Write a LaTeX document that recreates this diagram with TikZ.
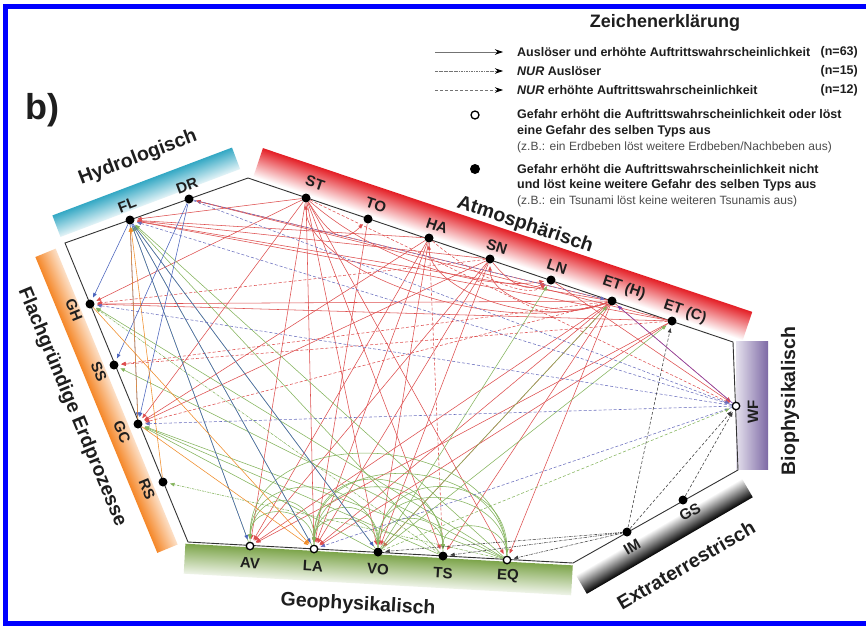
\documentclass[tikz,border=0pt]{standalone}
\usepackage{fontspec}
\setmainfont{Liberation Sans}
\usetikzlibrary{arrows.meta}
\definecolor{atmL}{RGB}{222,78,78}
\definecolor{geoL}{RGB}{132,180,92}
\definecolor{hydL}{RGB}{72,98,188}
\definecolor{shlL}{RGB}{240,140,40}
\definecolor{bioL}{RGB}{130,70,180}
\definecolor{extL}{RGB}{60,60,60}
\definecolor{wfdL}{RGB}{105,110,190}
\definecolor{hydB}{RGB}{52,168,196}
\definecolor{atmB}{RGB}{228,30,37}
\definecolor{bioB}{RGB}{125,105,165}
\definecolor{geoB}{RGB}{125,165,75}
\definecolor{shlB}{RGB}{245,135,40}
\definecolor{txt}{RGB}{30,30,30}
\begin{document}
\begin{tikzpicture}[x=1pt,y=-1pt,
  conn/.style={line width=0.55pt,-{Triangle[length=4.5pt,width=3.6pt]},shorten >=2.5pt},
  trig/.style={dash pattern=on 2.5pt off 1pt on 0.6pt off 1pt},
  prob/.style={dash pattern=on 3pt off 2pt},
  dotnode/.style={circle,fill=black,inner sep=0pt,minimum size=9pt},
  opennode/.style={circle,draw=black,fill=white,line width=1.3pt,inner sep=0pt,minimum size=7.5pt},
  lab/.style={font=\fontsize{15}{15}\selectfont\bfseries,inner sep=0pt,text=txt},
  grp/.style={font=\fontsize{19.5}{19.5}\selectfont\bfseries,inner sep=0pt,text=txt},
  leg/.style={font=\fontsize{12.5}{12.5}\selectfont\bfseries,inner sep=0pt,anchor=west,text=txt},
  legs/.style={font=\fontsize{12}{12}\selectfont,inner sep=0pt,anchor=west,text=black!70},
  legn/.style={font=\fontsize{12.5}{12.5}\selectfont\bfseries,inner sep=0pt,anchor=east,text=txt},
  legarrow/.style={line width=0.8pt,black!55,-{Stealth[length=8pt,width=5.5pt,black]}}
]
\useasboundingbox (0,0) rectangle (866,625);
\fill[white] (0,0) rectangle (866,625);
% frame
\draw[blue,line width=5pt] (880,6.8) -- (5.8,6.8) -- (5.8,623.3) -- (880,623.3);

% bands
\begin{scope}[transform canvas={shift={(146.25,192.25)},rotate=20.7}]
  \shade[top color=hydB,bottom color=hydB!12] (-96,-11.5) rectangle (96,11.5);
\end{scope}
\begin{scope}[transform canvas={shift={(502.8,244.2)},rotate=-18.5}]
  \shade[top color=atmB,bottom color=white] (-258,-15) rectangle (258,15);
\end{scope}
\shade[left color=bioB!20,right color=bioB] (736,341) rectangle (768,469);
\begin{scope}[transform canvas={shift={(664.25,536)},rotate=30.2}]
  \shade[top color=white,bottom color=black] (-96,-11) rectangle (96,11);
\end{scope}
\begin{scope}[transform canvas={shift={(378.25,569.5)},rotate=-3.2}]
  \shade[top color=geoB,bottom color=geoB!12] (-194,-15) rectangle (194,15);
\end{scope}
\begin{scope}[transform canvas={shift={(106.5,400.75)},rotate=-67.6}]
  \shade[top color=shlB!25,bottom color=shlB] (-160,-11) rectangle (160,11);
\end{scope}

% polygon
\draw[black!80,line width=0.9pt] (65,243) -- (248,178) -- (733,342) -- (738,470) -- (573,563) -- (188,542) -- cycle;

% hazard nodes
\node[dotnode] (FL) at (130,220) {};
\node[dotnode] (DR) at (189,199) {};
\node[dotnode] (ST) at (306,198) {};
\node[dotnode] (TO) at (368,219) {};
\node[dotnode] (HA) at (429,238) {};
\node[dotnode] (SN) at (490,259) {};
\node[dotnode] (LN) at (551,280) {};
\node[dotnode] (ETH) at (612,301) {};
\node[dotnode] (ETC) at (672,321) {};
\node[opennode] (WF) at (736,406) {};
\node[dotnode] (GH) at (90,304) {};
\node[dotnode] (SS) at (114,365) {};
\node[dotnode] (GC) at (138,424) {};
\node[dotnode] (RS) at (163,482) {};
\node[opennode] (AV) at (250,546) {};
\node[opennode] (LA) at (314,549) {};
\node[dotnode] (VO) at (378,552) {};
\node[dotnode] (TS) at (443,556) {};
\node[opennode] (EQ) at (507,560) {};
\node[dotnode] (IM) at (627,532) {};
\node[dotnode] (GS) at (683,500) {};

% atmospheric (red)
\foreach \s/\t in {ST/FL,ST/LA,ST/AV,ST/GC,ST/GH,ST/VO,ST/EQ,HA/FL,HA/LA,HA/AV,HA/GC,
  SN/AV,SN/FL,SN/LA,SN/GC,SN/VO,TO/LA,LN/WF,ETH/DR,ETH/WF,ETH/FL,ETH/AV,ETH/LA,ETH/GH,
  ETH/VO,ETH/EQ,ETC/GH,ETC/AV,ETC/FL,ETC/LA,ST/TS,HA/VO,ETH/TS,ETC/DR}
  \draw[conn,atmL] (\s) -- (\t);
\foreach \s/\t in {ETH/GC,ETH/SS,ST/WF,SN/GH,ETC/SS,HA/TS}
  \draw[conn,prob,atmL] (\s) -- (\t);
\draw[conn,atmL] (ST) .. controls +(25,40) and +(-25,25) .. (TO);
\draw[conn,atmL] (ST) .. controls +(80,70) and +(-60,10) .. (LN);
\draw[conn,atmL] (SN) .. controls +(20,25) and +(-25,12) .. (LN);
\draw[conn,atmL] (ETH) .. controls +(-120,40) and +(0,70) .. (ST);
\draw[conn,atmL] (ETH) .. controls +(-80,30) and +(0,50) .. (HA);
\draw[conn,atmL] (ETH) .. controls +(-50,20) and +(0,40) .. (SN);
\draw[conn,prob,atmL] (HA) .. controls +(40,35) and +(-25,20) .. (LN);

% geophysical (green)
\foreach \s/\t in {EQ/FL,EQ/GC,EQ/SS,EQ/GH,VO/FL,VO/LN,VO/ETC,VO/ETH,LA/FL,TS/FL,AV/FL,TS/GC,VO/GC}
  \draw[conn,geoL] (\s) -- (\t);
\draw[conn,trig,geoL] (EQ) -- (RS);
\draw[conn,prob,geoL] (VO) -- (WF);
\draw[conn,trig,geoL] (TS) -- (GH);
\foreach \s/\t/\h in {EQ/TS/40,EQ/VO/75,EQ/LA/105,EQ/AV/130,VO/EQ/90,VO/TS/45,VO/LA/40,
  VO/AV/80,LA/TS/85,LA/AV/45,TS/LA/95,LA/VO/55,AV/LA/60}
  \draw[conn,geoL] (\s) .. controls +(0,-\h) and +(0,-\h) .. (\t);

% hydrological (blue)
\foreach \s/\t in {FL/LA,FL/GC,FL/GH,FL/VO,FL/AV,DR/SS,DR/GC}
  \draw[conn,hydL] (\s) -- (\t);
\draw[conn,prob,wfdL] (DR) -- (WF);
\draw[conn,prob,wfdL] (DR) -- (ETH);

% shallow earth (orange)
\foreach \s/\t in {GC/FL,RS/FL,GC/LA,GH/LA}
  \draw[conn,shlL] (\s) -- (\t);

% biophysical (purple)
\foreach \s/\t in {WF/FL,WF/GH,WF/LA,WF/GC}
  \draw[conn,prob,wfdL] (\s) -- (\t);
\draw[conn,bioL] (WF) -- (ETH);

% extraterrestrial (black)
\foreach \s/\t in {IM/EQ,IM/TS,IM/VO}
  \draw[conn,trig,extL] (\s) -- (\t);
\foreach \s/\t in {IM/WF,IM/ETC,GS/WF}
  \draw[conn,prob,extL] (\s) -- (\t);

% node labels
\node[lab,rotate=20.7] (lFL) at (127,205) {FL};
\node[lab,rotate=20.7] (lDR) at (187,186) {DR};
\node[lab,rotate=-18.5] (lST) at (315,183) {ST};
\node[lab,rotate=-18.5] (lTO) at (376,205) {TO};
\node[lab,rotate=-18.5] (lHA) at (437,226) {HA};
\node[lab,rotate=-18.5] (lSN) at (497,247) {SN};
\node[lab,rotate=-18.5] (lLN) at (557,267) {LN};
\node[lab,rotate=-18.5] (lETH) at (624,288) {ET (H)};
\node[lab,rotate=-18.5] (lETC) at (685,312) {ET (C)};
\node[lab,rotate=90] (lWF) at (753,412) {WF};
\node[lab,rotate=-67.6] (lGH) at (74,310) {GH};
\node[lab,rotate=-67.6] (lSS) at (99,372) {SS};
\node[lab,rotate=-67.6] (lGC) at (122,432) {GC};
\node[lab,rotate=-67.6] (lRS) at (147,489) {RS};
\node[lab,rotate=-3.2] (lAV) at (250,563) {AV};
\node[lab,rotate=-3.2] (lLA) at (313,566) {LA};
\node[lab,rotate=-3.2] (lVO) at (378,569) {VO};
\node[lab,rotate=-3.2] (lTS) at (443,573) {TS};
\node[lab,rotate=-3.2] (lEQ) at (508,576) {EQ};
\node[lab,rotate=30.2] (lIM) at (632,547) {IM};
\node[lab,rotate=30.2] (lGS) at (690,512) {GS};

% group labels
\node[grp,rotate=20.7] (gHyd) at (138,158) {Hydrologisch};
\node[grp,rotate=-18.5] (gAtm) at (525,225) {Atmosphärisch};
\node[grp,rotate=90] (gBio) at (790,401) {Biophysikalisch};
\node[grp,rotate=30.2] (gExt) at (686,565) {Extraterrestrisch};
\node[grp,rotate=-3.2] (gGeo) at (358,605) {Geophysikalisch};
\node[grp,rotate=-67.6] (gShl) at (72,407) {Flachgründige Erdprozesse};

\node[font=\fontsize{36}{36}\selectfont\bfseries,inner sep=0pt,text=txt] (bl) at (42,110) {b)};

% legend
\node[font=\fontsize{18}{18}\selectfont\bfseries,inner sep=0pt,text=txt] (ltitle) at (665,23) {Zeichenerklärung};
\coordinate (a1) at (435,52); \coordinate (b1) at (503,52);
\coordinate (a2) at (435,71); \coordinate (b2) at (503,71);
\coordinate (a3) at (435,90); \coordinate (b3) at (503,90);
\draw[legarrow] (a1) -- (b1);
\draw[legarrow,trig] (a2) -- (b2);
\draw[legarrow,prob] (a3) -- (b3);
\node[leg] (t1) at (517,52) {Auslöser und erhöhte Auftrittswahrscheinlichkeit};
\node[leg] (t2) at (517,71) {\itshape NUR\upshape{} Auslöser};
\node[leg] (t3) at (517,90) {\itshape NUR\upshape{} erhöhte Auftrittswahrscheinlichkeit};
\node[legn] (n1) at (858,52) {(n=63)};
\node[legn] (n2) at (858,71) {(n=15)};
\node[legn] (n3) at (858,90) {(n=12)};
\node[opennode,minimum size=8pt] (c1) at (475,115) {};
\node[dotnode,minimum size=10pt] (c2) at (475,169) {};
\node[leg] (t4a) at (517,114) {Gefahr erhöht die Auftrittswahrscheinlichkeit oder löst};
\node[leg] (t4b) at (517,131) {eine Gefahr des selben Typs aus};
\node[legs] (t4c) at (517,147) {(z.B.: ein Erdbeben löst weitere Erdbeben/Nachbeben aus)};
\node[leg] (t5a) at (517,169) {Gefahr erhöht die Auftrittswahrscheinlichkeit nicht};
\node[leg] (t5b) at (517,185) {und löst keine weitere Gefahr des selben Typs aus};
\node[legs] (t5c) at (517,201) {(z.B.: ein Tsunami löst keine weiteren Tsunamis aus)};
\end{tikzpicture}
\end{document}
